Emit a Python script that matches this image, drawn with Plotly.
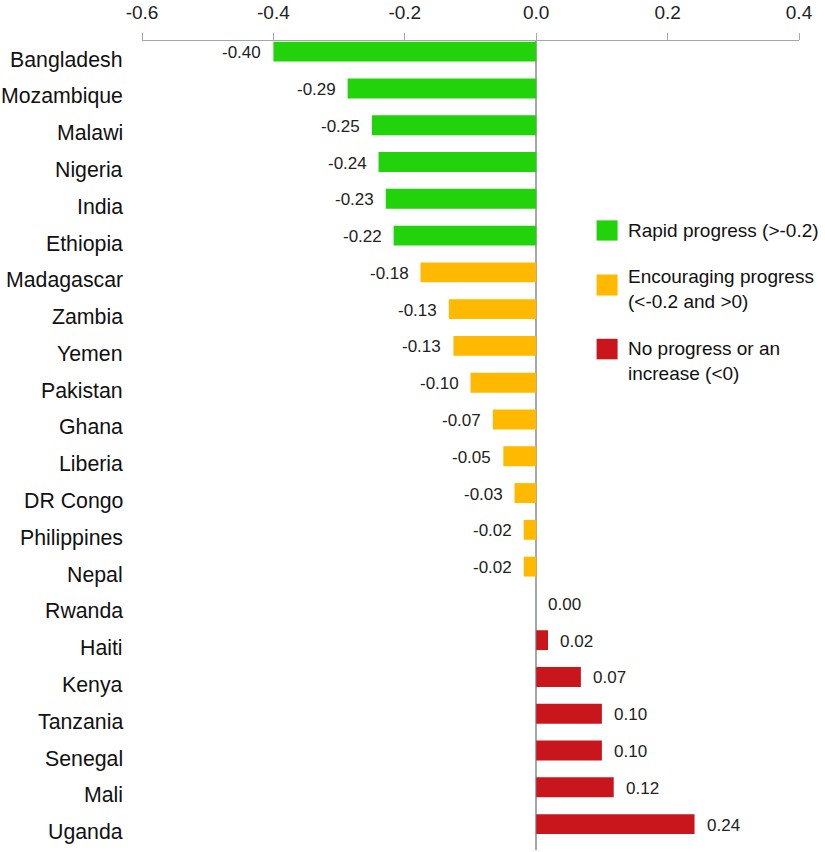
import plotly.graph_objects as go

countries = ["Bangladesh", "Mozambique", "Malawi", "Nigeria", "India", "Ethiopia",
             "Madagascar", "Zambia", "Yemen", "Pakistan", "Ghana", "Liberia",
             "DR Congo", "Philippines", "Nepal", "Rwanda", "Haiti", "Kenya",
             "Tanzania", "Senegal", "Mali", "Uganda"]
values = [-0.400, -0.287, -0.250, -0.240, -0.229, -0.217,
          -0.176, -0.133, -0.126, -0.100, -0.066, -0.050,
          -0.033, -0.019, -0.019, 0.000, 0.018, 0.068,
          0.100, 0.100, 0.118, 0.241]
groups = ["rapid"] * 6 + ["encouraging"] * 9 + ["none"] * 7

group_names = ["rapid", "encouraging", "none"]
group_colors = {"rapid": "#22D20A", "encouraging": "#FFB900", "none": "#C8161C"}
legend_texts = {"rapid": "Rapid progress (>-0.2)",
                "encouraging": "Encouraging progress<br>(<-0.2 and >0)",
                "none": "No progress or an<br>increase (<0)"}

x_ticks = [-0.6, -0.4, -0.2, 0.0, 0.2, 0.4]
x_ticktext = ["-0.6", "-0.4", "-0.2", "0.0", "0.2", "0.4"]

FONT = "Arial, Liberation Sans, sans-serif"

fig = go.Figure()
for g in group_names:
    ys = [c for c, gg in zip(countries, groups) if gg == g]
    xs = [v for v, gg in zip(values, groups) if gg == g]
    fig.add_trace(go.Bar(x=xs, y=ys, orientation="h", width=0.54,
                         marker=dict(color=group_colors[g], line=dict(width=0)),
                         showlegend=False, hoverinfo="skip"))

annotations = []
# data labels
for c, v in zip(countries, values):
    neg = v < 0
    annotations.append(dict(x=v, y=c, xref="x", yref="y", text=f"{v:.2f}",
                            showarrow=False, xanchor="right" if neg else "left",
                            xshift=-10 if neg else 10, yshift=-1,
                            font=dict(family=FONT, size=17, color="#222222")))
# category labels
for c in countries:
    annotations.append(dict(x=-0.026, y=c, xref="paper", yref="y", text=c,
                            showarrow=False, xanchor="right", yshift=-8,
                            font=dict(family=FONT, size=21.3, color="#111111")))

# custom legend
leg_sq = {"rapid": (0.7783, 0.7533), "encouraging": (0.7114, 0.6854), "none": (0.6319, 0.6065)}
leg_txt_y = {"rapid": 0.7656, "encouraging": 0.6934, "none": 0.6048}
shapes = []
for g in group_names:
    y1, y0 = leg_sq[g]
    shapes.append(dict(type="rect", xref="paper", yref="paper", x0=0.6919, x1=0.7239,
                       y0=y0, y1=y1, fillcolor=group_colors[g], line=dict(width=0)))
    annotations.append(dict(x=0.7365, y=leg_txt_y[g], xref="paper", yref="paper",
                            text=legend_texts[g], showarrow=False, xanchor="left",
                            yanchor="middle", align="left",
                            font=dict(family=FONT, size=19, color="#111111")))

fig.update_layout(
    width=825, height=852,
    margin=dict(l=142, r=26, t=39, b=2),
    paper_bgcolor="white", plot_bgcolor="white",
    bargap=0.46,
    annotations=annotations, shapes=shapes,
    xaxis=dict(side="top", range=[-0.6, 0.4], tickvals=x_ticks, ticktext=x_ticktext,
               showgrid=False, showline=True, linecolor="#A3A9A9", linewidth=1.3,
               ticks="outside", ticklen=7, tickcolor="#A3A9A9", tickwidth=1.3,
               ticklabelstandoff=6,
               zeroline=True, zerolinecolor="#A3A9A9", zerolinewidth=1.5,
               tickfont=dict(family=FONT, size=19, color="#222222")),
    yaxis=dict(type="category", categoryorder="array", categoryarray=countries,
               range=[21.705, -0.29], showticklabels=False, showgrid=False,
               showline=False, zeroline=False, ticks=""),
)

fig.write_html("out.html", config={"displayModeBar": False},
               post_script="document.body.style.margin='0';document.body.style.overflow='hidden';")
